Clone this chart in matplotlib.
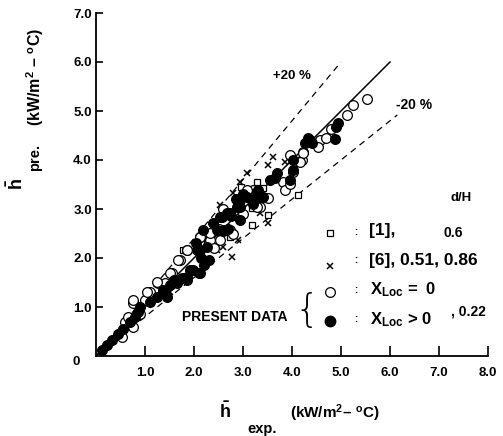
import matplotlib
matplotlib.use("Agg")
import matplotlib.pyplot as plt
import numpy as np

plt.rcParams['font.family'] = ['Liberation Sans', 'DejaVu Sans']
plt.rcParams['font.weight'] = 'bold'
plt.rcParams['mathtext.fontset'] = 'custom'
plt.rcParams['mathtext.rm'] = 'Liberation Sans:bold'
plt.rcParams['mathtext.it'] = 'Liberation Sans:bold'
plt.rcParams['mathtext.bf'] = 'Liberation Sans:bold'

# ---- data (h_exp, h_pre) in kW/m2-C ----
sq_x = [1.78, 2.27, 2.73, 3.18, 3.29, 3.41, 3.51, 4.12, 3.18, 2.95]
sq_y = [2.16, 2.35, 2.43, 2.67, 3.55, 3.43, 2.88, 3.29, 3.02, 3.45]

cr_x = [3.61, 3.51, 3.86, 3.08, 2.94, 2.80, 2.53, 2.47, 2.78, 2.90, 3.35, 3.51,
        2.60, 1.45, 1.50]
cr_y = [4.06, 3.90, 3.96, 3.73, 3.55, 3.33, 3.08, 2.16, 2.02, 2.37, 2.92, 2.71,
        2.22, 1.20, 1.30]

oc_x = [5.53, 5.25, 5.12, 4.80, 4.57, 4.70, 4.53, 4.22, 4.20, 3.82, 3.86, 3.08, 3.35,
        2.33, 2.12, 1.71, 1.55, 1.86, 1.67, 1.27, 1.10, 0.76, 0.76, 0.53, 0.59, 0.65,
        2.60, 2.50, 3.00, 2.40, 1.40, 0.90, 1.00,
        1.51, 1.24, 1.04, 0.76, 2.12, 2.33, 2.53, 1.86,
        3.96, 4.22, 4.16, 4.02, 3.96, 3.20, 3.08, 3.51, 3.29, 2.73, 2.80, 2.62]
oc_y = [5.24, 5.12, 4.92, 4.63, 4.40, 4.45, 4.27, 4.16, 4.00, 3.55, 3.39, 3.33, 3.04,
        2.37, 2.43, 1.96, 1.69, 2.16, 1.96, 1.49, 1.31, 1.08, 0.59, 0.39, 0.69, 0.80,
        3.00, 2.60, 2.90, 2.20, 1.50, 0.85, 1.15,
        1.69, 1.51, 1.31, 1.14, 2.43, 2.51, 2.37, 2.16,
        4.10, 4.14, 3.96, 3.76, 3.52, 3.39, 3.39, 3.22, 3.04, 2.57, 2.50, 2.57]

fc_x = [4.94, 4.90, 4.33, 4.27, 4.88, 4.02, 4.02, 3.65, 3.96, 3.31, 2.57, 2.94, 2.12,
        1.98, 2.94, 3.29, 0.86, 0.90, 1.65, 1.86, 1.92, 0.12, 0.22, 0.33, 2.20, 2.10,
        2.15, 2.70, 2.75, 3.20, 1.75, 2.30, 1.60, 2.85, 3.00, 0.80, 0.70, 0.45, 0.55,
        1.10, 1.25, 1.50, 2.05, 2.60,
        2.06, 2.12, 1.86, 1.37, 1.45, 2.18, 2.39, 2.53, 2.67, 2.27,
        4.37, 4.40, 3.69, 3.55, 3.29, 3.08, 2.94, 2.88, 2.73, 2.47, 3.41]
fc_y = [4.76, 4.67, 4.45, 4.35, 4.43, 4.00, 3.80, 3.63, 3.59, 3.39, 2.84, 3.04, 2.16,
        1.76, 2.78, 3.24, 0.90, 1.00, 1.49, 1.55, 1.76, 0.12, 0.22, 0.33, 1.85, 1.70,
        2.00, 2.60, 2.85, 3.10, 1.60, 1.95, 1.55, 3.20, 3.30, 0.80, 0.70, 0.45, 0.55,
        1.10, 1.20, 1.45, 2.30, 2.55,
        2.16, 1.69, 1.61, 1.35, 1.20, 2.57, 2.71, 2.84, 2.92, 2.22,
        4.41, 4.35, 3.73, 3.59, 3.35, 3.24, 3.18, 3.04, 2.92, 2.57, 3.24]

x_ticks = [1.0, 2.0, 3.0, 4.0, 5.0, 6.0, 7.0, 8.0]
y_ticks = [1.0, 2.0, 3.0, 4.0, 5.0, 6.0, 7.0]

fig = plt.figure(figsize=(5.03, 4.36), dpi=100)
ax = fig.add_axes([96/503, 80/436, 392/503, 343/436])
ax.set_xlim(0, 8.0)
ax.set_ylim(0, 7.0)
for s in ['top', 'right']:
    ax.spines[s].set_visible(False)
for s in ['left', 'bottom']:
    ax.spines[s].set_linewidth(1.3)

ax.set_xticks(x_ticks)
ax.set_xticklabels([f"{v:.1f}" for v in x_ticks], fontsize=9.5, fontweight='bold')
ax.set_yticks(y_ticks)
ax.set_yticklabels([f"{v:.1f}" for v in y_ticks], fontsize=9.5, fontweight='bold')
ax.tick_params(axis='x', direction='in', length=7, width=1.2, pad=8)
ax.tick_params(axis='y', direction='in', length=5, width=1.2, pad=3)
ax.text(-0.32, -0.12, "0", fontsize=9.5, fontweight='bold', ha='right', va='center')

# reference lines
xl = np.array([0, 6.0])
ax.plot(xl, xl, color='black', lw=1.1)
xp = np.array([0, 5.0])
ax.plot(xp, 1.2 * xp, color='black', lw=0.9, ls=(0, (5, 4)))
xm = np.array([0, 6.15])
ax.plot(xm, 0.8 * xm, color='black', lw=0.9, ls=(0, (5, 4)))
ax.text(4.0, 5.72, "+20 %", fontsize=9.5, fontweight='bold', ha='center', va='center')
ax.text(6.5, 5.13, "-20 %", fontsize=10, fontweight='bold', ha='center', va='center')

# data
ax.plot(sq_x, sq_y, ls='none', marker='s', ms=5, mfc='white', mec='black', mew=0.9)
ax.plot(cr_x, cr_y, ls='none', marker='x', ms=5, color='black', mew=1.1)
ax.plot(oc_x, oc_y, ls='none', marker='o', ms=7, mfc='white', mec='black', mew=0.9)
ax.plot(fc_x, fc_y, ls='none', marker='o', ms=7, mfc='black', mec='black', mew=0.9)

# legend (drawn as text/markers in data coords)
lx = 4.78
ax.text(7.45, 3.22, "d/H", fontsize=9.5, fontweight='bold', ha='center', va='center')
ax.plot([lx], [2.52], ls='none', marker='s', ms=5, mfc='white', mec='black', mew=0.9)
ax.text(5.3, 2.54, ":", fontsize=7, ha='center', va='center')
ax.text(5.58, 2.56, "[1],", fontsize=12.5, fontweight='bold', ha='left', va='center')
ax.text(7.3, 2.52, "0.6", fontsize=10, fontweight='bold', ha='center', va='center')

ax.plot([lx], [1.83], ls='none', marker='x', ms=4.5, color='black', mew=1.1)
ax.text(5.3, 1.95, ":", fontsize=7, ha='center', va='center')
ax.text(5.58, 1.94, "[6], 0.51, 0.86", fontsize=12.5, fontweight='bold', ha='left', va='center')

ax.plot([lx], [1.31], ls='none', marker='o', ms=7, mfc='white', mec='black', mew=0.9)
ax.text(5.3, 1.35, ":", fontsize=7, ha='center', va='center')
ax.text(5.6, 1.35, r"X$_{\mathrm{Loc}}$ =  0", fontsize=12, fontweight='bold', ha='left', va='center')

ax.plot([lx], [0.72], ls='none', marker='o', ms=7.5, mfc='black', mec='black')
ax.text(5.3, 0.76, ":", fontsize=7, ha='center', va='center')
ax.text(5.6, 0.75, r"X$_{\mathrm{Loc}}$ > 0", fontsize=12, fontweight='bold', ha='left', va='center')
ax.text(7.25, 0.90, ", 0.22", fontsize=10, fontweight='bold', ha='left', va='center')

ax.text(1.75, 0.80, "PRESENT DATA", fontsize=10, fontweight='bold', ha='left', va='center')
ax.text(4.3, 0.92, "{", fontsize=28, fontweight='light', ha='center', va='center',
        family='DejaVu Sans')

# axis labels
fig.text(17/503, 1 - 184/436, r"$\bar{\mathrm{h}}$", fontsize=13, rotation=90,
         ha='center', va='center')
fig.text(35/503, 1 - 157/436, "pre.", fontsize=10.5, fontweight='bold', rotation=90,
         ha='center', va='center')
fig.text(35/503, 1 - 77/436, r"(kW/m$^{2}$ – $^{\mathrm{o}}$C)", fontsize=11.5,
         fontweight='bold', rotation=90, ha='center', va='center')

fig.text(225/503, 1 - 412/436, r"$\bar{\mathrm{h}}$", fontsize=13, ha='center', va='center')
fig.text(262/503, 1 - 429/436, "exp.", fontsize=10.5, fontweight='bold', ha='center', va='center')
fig.text(335/503, 1 - 413/436, r"(kW/m$^{2}$– $^{\mathrm{o}}$C)", fontsize=11,
         fontweight='bold', ha='center', va='center')

fig.savefig("out.png", dpi=100)
